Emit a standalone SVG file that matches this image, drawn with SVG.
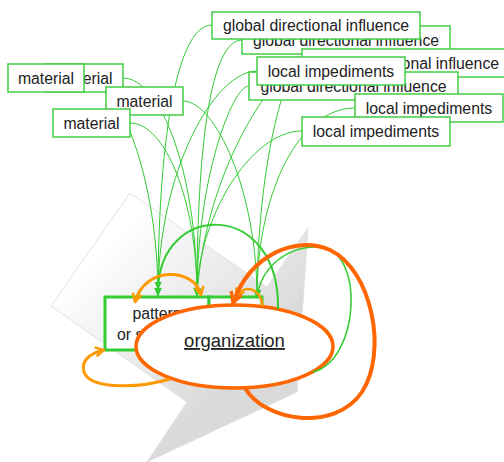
<svg xmlns="http://www.w3.org/2000/svg" width="504" height="462" viewBox="0 0 504 462">
<defs>
<style>
.lbl rect{fill:#fff;stroke:#44cc44;stroke-width:1.5}
.lbl text,.nd text{font-family:"Liberation Sans",Arial,Helvetica,sans-serif;font-size:15.8px;fill:#222;text-anchor:middle}
.g{fill:none;stroke:#33cc33;stroke-width:1;marker-end:url(#ga)}
.o{fill:none;stroke:#ff9900;stroke-width:3}
</style>
<linearGradient id="bg" gradientUnits="userSpaceOnUse" x1="120" y1="230" x2="250" y2="360">
<stop offset="0" stop-color="#ffffff"/><stop offset="1" stop-color="#dadada"/>
</linearGradient>
<marker id="ga" viewBox="0 0 10 10" refX="10" refY="5" markerWidth="9" markerHeight="8" markerUnits="userSpaceOnUse" orient="auto"><path d="M0,0.5 L10,5 L0,9.5 z" fill="#33cc33"/></marker>
<marker id="oa" viewBox="-1 -1 12 12" refX="9.5" refY="5" markerWidth="12" markerHeight="12" markerUnits="userSpaceOnUse" orient="auto-start-reverse"><path d="M1,0.5 L9.5,5 L1,9.5" fill="none" stroke="#ff9900" stroke-width="2.4"/></marker>
<marker id="da" viewBox="-1 -1 12 12" refX="9.5" refY="5" markerWidth="15" markerHeight="15" markerUnits="userSpaceOnUse" orient="auto"><path d="M1,0.5 L9.5,5 L1,9.5" fill="none" stroke="#ff6600" stroke-width="2.6"/></marker>
</defs>
<rect width="504" height="462" fill="#fff"/>
<polygon points="130,193 267,287 308,228 297,392 147,462 187,402 51,306" fill="url(#bg)" stroke="#e2e2e2" stroke-width="1"/>
<g id="pattern" class="nd">
<rect x="105" y="297" width="104" height="53" fill="#fff" stroke="#33cc33" stroke-width="3"/>
<text x="157" y="318.5">pattern</text>
<text x="157" y="339.5">or structure</text>
</g>
<g id="pattern2" class="nd">
<rect x="209" y="297" width="53" height="53" fill="#fff" stroke="#33cc33" stroke-width="3"/>
</g>
<g id="organization" class="nd">
<ellipse cx="234.5" cy="346.5" rx="98.5" ry="41.5" fill="#fff" stroke="#ff6600" stroke-width="3.5"/>
<text x="234.5" y="347" style="font-size:18.5px;text-decoration:underline">organization</text>
</g>
<g id="connectors">
<path class="g" d="M84,78 C120,78 158,180 158,296"/>
<path class="g" d="M123,78 C160,78 197,170 197,296"/>
<path class="g" d="M183,101 C215,101 257,190 257,298"/>
<path class="g" d="M130,123 C165,123 197,200 197,296"/>
<path class="g" d="M212,25 C175,25 158,150 158,296"/>
<path class="g" d="M242,40 C210,40 197,150 197,296"/>
<path class="g" d="M302,63 C280,63 205,165 197,296"/>
<path class="g" d="M302,63 C285,63 257,170 257,298"/>
<path class="g" d="M249,86 C232,86 197,180 197,296"/>
<path class="g" d="M257,71 C215,71 158,170 158,296"/>
<path class="g" d="M355,108 C300,108 257,190 257,298"/>
<path class="g" d="M302,131 C250,131 197,220 197,296"/>
<path class="g" style="stroke-width:2" d="M278,309 C280,200 160,200 158,290"/>
<path class="g" style="stroke-width:1.5" d="M313,372 C360,360 365,250 320,247 C285,245 260,270 257,298"/>
<path class="o" marker-start="url(#oa)" marker-end="url(#oa)" d="M201,295 C195,268 145,265 135,302"/>
<path class="o" style="stroke-width:2.5" marker-end="url(#oa)" d="M262.5,306 C262,290 245,282 236,297"/>
<path class="o" marker-end="url(#oa)" d="M170,379 C140,388 90,390 84,372 C80,358 95,352 104,350"/>
<path fill="none" stroke="#ff6600" stroke-width="4" marker-end="url(#da)" d="M245,388 C265,422 335,432 362,392 C388,352 372,270 330,250 C295,235 250,255 233,303"/>
</g>
<g id="material2" class="lbl"><rect x="46" y="64" width="77" height="28"/><text x="84.5" y="83.5">material</text></g>
<g id="material1" class="lbl"><rect x="8" y="64" width="76" height="28"/><text x="46" y="83.5">material</text></g>
<g id="material3" class="lbl"><rect x="106" y="87" width="77" height="28"/><text x="144.5" y="106.5">material</text></g>
<g id="material4" class="lbl"><rect x="53" y="109" width="77" height="28"/><text x="91.5" y="128.5">material</text></g>
<g id="global2" class="lbl"><rect x="242" y="26" width="208" height="28"/><text x="346" y="45.5">global directional influence</text></g>
<g id="global1" class="lbl"><rect x="212" y="12" width="208" height="27"/><text x="316" y="31">global directional influence</text></g>
<g id="global3" class="lbl"><rect x="302" y="49" width="208" height="28"/><text x="406" y="68.5">global directional influence</text></g>
<g id="global4" class="lbl"><rect x="249" y="72" width="209" height="28"/><text x="353.5" y="91.5">global directional influence</text></g>
<g id="local1" class="lbl"><rect x="257" y="57" width="148" height="28"/><text x="331" y="76.5">local impediments</text></g>
<g id="local2" class="lbl"><rect x="355" y="94" width="148" height="28"/><text x="429" y="113.5">local impediments</text></g>
<g id="local3" class="lbl"><rect x="302" y="117" width="148" height="29"/><text x="376" y="137">local impediments</text></g>
</svg>
